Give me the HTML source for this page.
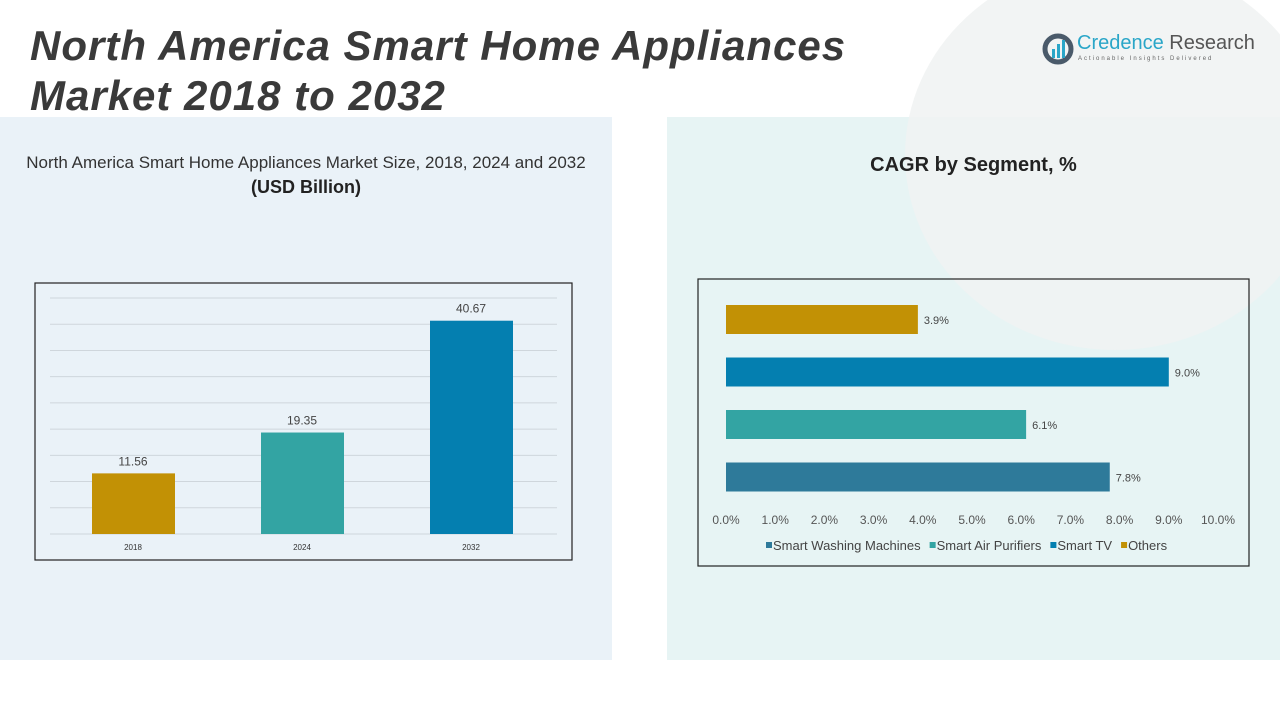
<!DOCTYPE html>
<html><head><meta charset="utf-8"><style>
body{margin:0;width:1280px;height:720px;overflow:hidden;background:#fff;font-family:"Liberation Sans",sans-serif;position:relative}
.abs{position:absolute}
</style></head><body>
<div class="abs" style="left:0;top:117px;width:612px;height:543px;background:#eaf2f8"></div>
<div class="abs" style="left:667px;top:117px;width:613px;height:543px;background:#e7f4f4"></div>
<div class="abs" style="left:905px;top:-40px;width:420px;height:390px;border-radius:50%;background:#f0f2f2;opacity:0.85"></div>
<div class="abs" style="left:30px;top:21px;font-size:42px;line-height:50px;letter-spacing:1px;font-weight:bold;font-style:italic;color:#3a3a3a">North America Smart Home Appliances<br>Market 2018 to 2032</div>
<div class="abs" style="left:1040px;top:32px;width:215px;height:40px">
<svg width="34" height="34" style="position:absolute;left:2px;top:1px"><circle cx="16" cy="16" r="13" fill="none" stroke="#4a5a6a" stroke-width="5"/><rect x="10" y="16" width="3" height="9" fill="#2aa6c8"/><rect x="15" y="11" width="3" height="14" fill="#2aa6c8"/><rect x="20" y="7" width="3" height="18" fill="#2aa6c8"/></svg>
<div class="abs" style="left:37px;top:0;font-size:20px;color:#555;white-space:nowrap"><span style="color:#2aa6c8">Credence</span> Research</div>
<div class="abs" style="left:38px;top:24px;font-size:6px;letter-spacing:2px;color:#666;white-space:nowrap">Actionable Insights Delivered</div>
</div>
<div class="abs" style="left:0;top:153px;width:612px;text-align:center;font-size:17px;color:#333">North America Smart Home Appliances Market Size, 2018, 2024 and 2032</div>
<div class="abs" style="left:0;top:177px;width:612px;text-align:center;font-size:18px;font-weight:bold;color:#222">(USD Billion)</div>
<div class="abs" style="left:667px;top:154px;width:613px;text-align:center;font-size:20px;font-weight:bold;color:#222">CAGR by Segment, %</div>
<svg class="abs" style="left:0;top:0" width="1280" height="720" id="charts">
<rect x="35" y="283" width="537" height="277" fill="none" stroke="#222" stroke-width="1.2"/>
<rect x="698" y="279" width="551" height="287" fill="none" stroke="#222" stroke-width="1.2"/>
<g id="left"></g><g id="right"></g>
</svg>
<script>
const years=["2018","2024","2032"];
const sizes=[11.56,19.35,40.67];
const barColors=["#c29105","#33a4a3","#047fb0"];
const segs=["Others","Smart TV","Smart Air Purifiers","Smart Washing Machines"];
const cagr=[3.9,9.0,6.1,7.8];
const segColors=["#c29105","#047fb0","#33a4a3","#2e7a9a"];
const xTicks=[0,1,2,3,4,5,6,7,8,9,10];
const legendOrder=["Smart Washing Machines","Smart Air Purifiers","Smart TV","Others"];
const legendColors=["#2e7a9a","#33a4a3","#047fb0","#c29105"];
const NS="http://www.w3.org/2000/svg";
function mk(p,t,a){const e=document.createElementNS(NS,t);for(const k in a)e.setAttribute(k,a[k]);p.appendChild(e);return e;}
const L=document.getElementById('left');
const yS=v=>534-v*(236/45);
for(let g=0;g<=45;g+=5){const l=mk(L,'line',{x1:50,x2:557,y1:yS(g),y2:yS(g),stroke:'#cfd6dc','stroke-width':1});

}
years.forEach((y,i)=>{const cx=133+i*169;
const r=mk(L,'rect',{x:cx-41,y:yS(sizes[i]),width:83,height:534-yS(sizes[i]),fill:barColors[i]});


const t=mk(L,'text',{x:cx,y:yS(sizes[i])-8,'text-anchor':'middle','font-size':12,fill:'#444'});t.textContent=sizes[i].toFixed(2);


const x=mk(L,'text',{x:cx,y:550,'text-anchor':'middle','font-size':8,fill:'#333'});x.textContent=y;

});
const R=document.getElementById('right');
const xS=v=>726+v*49.2;
segs.forEach((s,i)=>{const top=305+i*52.5;
const r=mk(R,'rect',{x:xS(0),y:top,width:xS(cagr[i])-xS(0),height:29,fill:segColors[i]});


const t=mk(R,'text',{x:xS(cagr[i])+6,y:top+19,'font-size':11,fill:'#444'});t.textContent=cagr[i].toFixed(1)+'%';

});
xTicks.forEach(v=>{const t=mk(R,'text',{x:xS(v),y:524,'text-anchor':'middle','font-size':12,fill:'#555'});t.textContent=v.toFixed(1)+'%';

});
let lx=766;
legendOrder.forEach((s,i)=>{const g=mk(R,'g',{});


mk(g,'rect',{x:lx,y:542,width:6,height:6,fill:legendColors[i]});
const t=mk(g,'text',{x:lx+7,y:550,'font-size':13,fill:'#444'});t.textContent=s;
lx+=t.getComputedTextLength()+16;});
</script>
</body></html>
